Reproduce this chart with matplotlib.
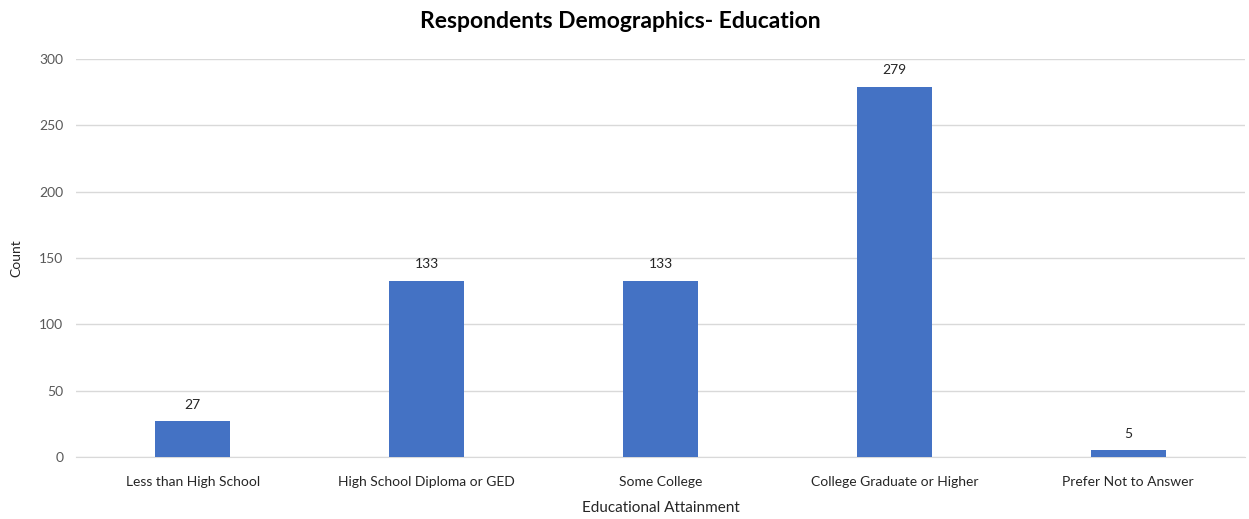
import matplotlib.pyplot as plt

categories = ["Less than High School", "High School Diploma or GED", "Some College",
              "College Graduate or Higher", "Prefer Not to Answer"]
counts = [27, 133, 133, 279, 5]
y_ticks = [0, 50, 100, 150, 200, 250, 300]

plt.rcParams['font.family'] = ['Lato', 'DejaVu Sans']

fig = plt.figure(figsize=(12.49, 5.19), dpi=100)
ax = fig.add_axes([0.0608, 0.1195, 0.936, 0.7668])

x = range(len(categories))
bars = ax.bar(x, counts, width=0.32, color="#4472C4", zorder=3)
for b, v in zip(bars, counts):
    ax.text(b.get_x() + b.get_width() / 2, v + 8, str(v), ha="center", va="bottom",
            fontsize=10, color="#262626")

ax.set_xlim(-0.5, len(categories) - 0.5)
ax.set_ylim(0, 300)
ax.set_yticks(y_ticks)
ax.set_xticks(list(x))
ax.set_xticklabels(categories, fontsize=10, color="#262626")
ax.tick_params(axis="y", labelsize=10, labelcolor="#595959", length=0, pad=9)
ax.tick_params(axis="x", length=0, pad=14)
ax.grid(axis="y", color="#D9D9D9", linewidth=1, zorder=0)
for s in ["top", "right", "left"]:
    ax.spines[s].set_visible(False)
ax.spines["bottom"].set_color("#D9D9D9")

ax.set_xlabel("Educational Attainment", fontsize=11, color="#262626", labelpad=9)
ax.set_ylabel("Count", fontsize=10, color="#262626", labelpad=12)
fig.suptitle("Respondents Demographics- Education", fontsize=16.5, fontweight="bold",
             y=0.978, x=0.497)

fig.savefig("out.png")
